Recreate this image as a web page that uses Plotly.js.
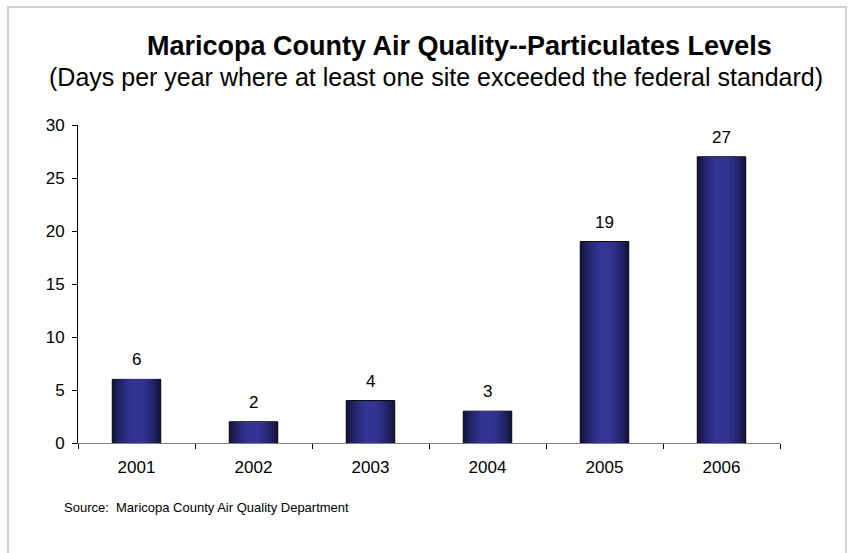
<!DOCTYPE html>
<html>
<head>
<meta charset="utf-8">
<script src="https://cdn.plot.ly/plotly-3.0.1.min.js"></script>
<style>
html,body{margin:0;padding:0;background:#fff;}
#wrap{position:relative;width:849px;height:553px;overflow:hidden;}
#chart{position:absolute;left:0;top:0;width:849px;height:553px;}
#frame{position:absolute;left:7px;top:6px;width:836px;height:600px;border:2px solid #d0d0d0;pointer-events:none;}
</style>
</head>
<body>
<div id="wrap"><div id="chart"></div><div id="frame"></div></div>
<script>
const years = ['2001','2002','2003','2004','2005','2006'];
const days = [6, 2, 4, 3, 19, 27];
const yTicks = [0, 5, 10, 15, 20, 25, 30];

const font = 'Liberation Sans, Arial, sans-serif';
const fullWidth = 0.414;
const nLayers = 14;
const dark = [20, 20, 64];
const light = [52, 52, 150];

const traces = [];
for (let i = 0; i < nLayers; i++) {
  const f = i / (nLayers - 1);
  const w = fullWidth * (1 - f * 0.92);
  const t = Math.sin(f * Math.PI / 2);
  const c = dark.map((d, k) => Math.round(d + (light[k] - d) * t));
  traces.push({
    type: 'bar',
    x: years,
    y: days,
    width: w,
    marker: {
      color: 'rgb(' + c.join(',') + ')',
      line: i === 0 ? {color: '#000', width: 1} : {width: 0}
    },
    hoverinfo: 'skip',
    showlegend: false
  });
}

const annotations = years.map((yr, i) => ({
  x: i, y: days[i], xref: 'x', yref: 'y',
  text: String(days[i]), showarrow: false,
  yanchor: 'bottom', yshift: 8,
  font: {family: font, size: 17, color: '#000'}
}));
annotations.push({
  xref: 'paper', yref: 'paper', x: 0.544, y: 1.25,
  text: '<b>Maricopa County Air Quality--Particulates Levels</b>',
  showarrow: false, xanchor: 'center', yanchor: 'middle',
  font: {family: font, size: 27, color: '#000'}
});
annotations.push({
  xref: 'paper', yref: 'paper', x: 0.51, y: 1.152,
  text: '(Days per year where at least one site exceeded the federal standard)',
  showarrow: false, xanchor: 'center', yanchor: 'middle',
  font: {family: font, size: 25, color: '#000'}
});
annotations.push({
  xref: 'paper', yref: 'paper', x: -0.0228, y: -0.204,
  text: 'Source:  Maricopa County Air Quality Department',
  showarrow: false, xanchor: 'left', yanchor: 'middle',
  font: {family: font, size: 13, color: '#000'}
});

const layout = {
  width: 849, height: 553,
  margin: {l: 78, r: 69, t: 124.5, b: 110, pad: 0},
  paper_bgcolor: '#fff', plot_bgcolor: '#fff',
  barmode: 'overlay',
  bargap: 0,
  showlegend: false,
  font: {family: font, size: 17, color: '#000'},
  xaxis: {
    type: 'category',
    categoryorder: 'array',
    categoryarray: years,
    range: [-0.5, years.length - 0.5],
    tickson: 'boundaries',
    ticks: 'outside', ticklen: 5, tickcolor: '#000', tickwidth: 1,
    showline: true, linecolor: '#808080', linewidth: 1,
    showgrid: false, zeroline: false,
    ticklabelstandoff: 9,
    tickfont: {family: font, size: 17, color: '#000'},
    fixedrange: true
  },
  yaxis: {
    range: [0, 30],
    tickvals: yTicks,
    ticktext: yTicks.map(String),
    ticks: 'outside', ticklen: 5, tickcolor: '#000', tickwidth: 1,
    showline: true, linecolor: '#000', linewidth: 1,
    showgrid: false, zeroline: false,
    ticklabelstandoff: 4,
    tickfont: {family: font, size: 17, color: '#000'},
    fixedrange: true
  },
  annotations: annotations
};

Plotly.newPlot('chart', traces, layout, {displayModeBar: false, staticPlot: true});
</script>
</body>
</html>
